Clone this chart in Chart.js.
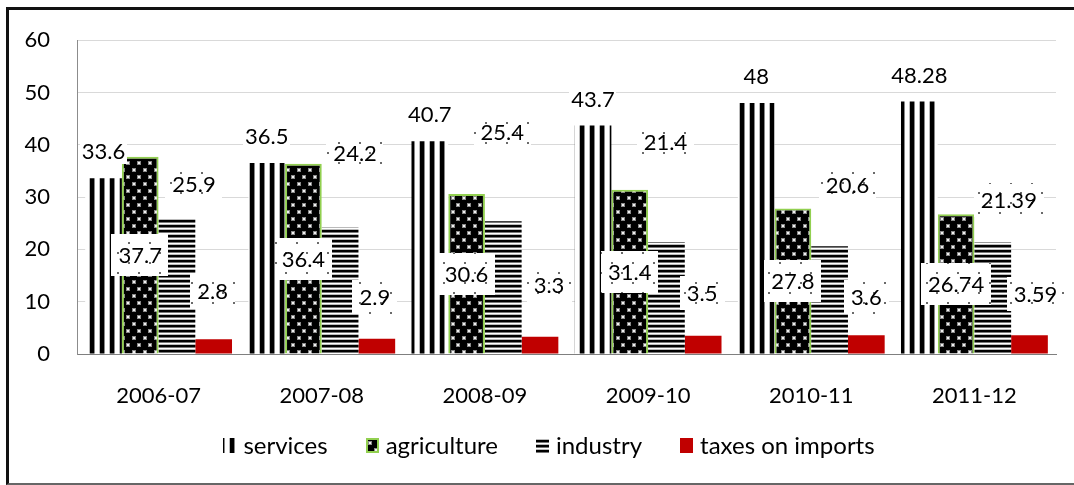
<!DOCTYPE html>
<html>
<head>
<meta charset="utf-8">
<script src="https://cdn.jsdelivr.net/npm/chart.js@4.4.0/dist/chart.umd.min.js"></script>
<style>
  html, body { margin: 0; padding: 0; background: #fff; }
  body { width: 1074px; height: 485px; overflow: hidden; position: relative; }
  #frame { position: absolute; left: 6px; top: 7px; width: 1080px; height: 473px;
           border-left: 3px solid #111; border-top: 3px solid #111; border-bottom: 2px solid #666; }
  #c { position: absolute; left: 0; top: 0; }
</style>
</head>
<body>
<div id="frame"></div>
<canvas id="c" width="1074" height="485"></canvas>
<script>
// ---------------- DATA ----------------
const categories = ['2006-07', '2007-08', '2008-09', '2009-10', '2010-11', '2011-12'];
const seriesNames = ['services', 'agriculture', 'industry', 'taxes on imports'];
const services = [33.6, 36.5, 40.7, 43.7, 48, 48.28];
const agriculture = [37.7, 36.4, 30.6, 31.4, 27.8, 26.74];
const industry = [25.9, 24.2, 25.4, 21.4, 20.6, 21.39];
const taxesOnImports = [2.8, 2.9, 3.3, 3.5, 3.6, 3.59];
const yTicks = [0, 10, 20, 30, 40, 50, 60];

// ---------------- STYLE ----------------
const FONT = 'Lato';
const FONT_SIZE = 22;
const LEGEND_FONT_SIZE = 24;

function makePattern(w, h, draw) {
  const c = document.createElement('canvas');
  c.width = w; c.height = h;
  const x = c.getContext('2d');
  draw(x, w, h);
  return x.createPattern(c, 'repeat');
}
// vertical stripes
const servicesFill = makePattern(10, 4, (x, w, h) => {
  const cols = ['#000', '#000', '#000', '#000', '#888', '#fff', '#fff', '#fff', '#fff', '#bbb'];
  cols.forEach((c, i) => { x.fillStyle = c; x.fillRect(i, 0, 1, h); });
});
// black with light dots
const agricultureFill = makePattern(11, 14, (x, w, h) => {
  x.fillStyle = '#000'; x.fillRect(0, 0, w, h);
  x.fillStyle = '#8a8a8a';
  x.fillRect(0, 0, 4, 4); x.fillRect(5, 7, 4, 4);
  x.fillStyle = '#f0f0f0';
  x.fillRect(1, 1, 2, 2); x.fillRect(6, 8, 2, 2);
});
// horizontal stripes
const industryFill = makePattern(4, 5, (x, w, h) => {
  const rows = ['#000', '#000', '#777', '#fff', '#bbb'];
  rows.forEach((c, i) => { x.fillStyle = c; x.fillRect(0, i, w, 1); });
});
// sparse grey dots on white (label boxes)
const labelDots = makePattern(21, 20, (x, w, h) => {
  x.fillStyle = '#fff'; x.fillRect(0, 0, w, h);
  x.fillStyle = '#6a6a6a';
  x.fillRect(2, 2, 2, 2); x.fillRect(12, 12, 2, 2);
});

// label placement styles (offsets in px relative to bar top / centre)
const labelStyle = [
  { pos: 'top', dy: -27, padX: 2, padY: 2, dots: false },
  { pos: 'middle', padX: 7, padY: 10, dots: true },
  { pos: 'top', padX: 7, padY: 6, dots: true,
    shift: [[17, -35], [15, -75], [-1, -89], [-1, -100], [18, -61], [16, -42]] },
  { pos: 'top', padX: 7, padY: 6, dots: true,
    shift: [[-1, -48], [-2, -42], [9, -52], [-1, -43], [0, -38], [6, -41]] }
];

const barLabels = {
  id: 'barLabels',
  afterDatasetsDraw(chart) {
    const ctx = chart.ctx;
    ctx.save();
    ctx.font = FONT_SIZE + 'px ' + FONT;
    ctx.textAlign = 'center';
    ctx.textBaseline = 'middle';
    chart.data.datasets.forEach((ds, di) => {
      const meta = chart.getDatasetMeta(di);
      const st = labelStyle[di];
      meta.data.forEach((bar, i) => {
        const txt = String(ds.data[i]);
        const p = bar.getProps(['x', 'y', 'base'], true);
        let cx = p.x, cy;
        if (st.pos === 'middle') cy = (p.y + p.base) / 2;
        else cy = p.y + (st.dy || 0);
        if (st.shift) { cx += st.shift[i][0]; cy = p.y + st.shift[i][1]; }
        const w = ctx.measureText(txt).width + 2 * st.padX;
        const h = FONT_SIZE + 2 * st.padY;
        ctx.fillStyle = st.dots ? labelDots : '#fff';
        ctx.fillRect(Math.round(cx - w / 2), Math.round(cy - h / 2), Math.round(w), Math.round(h));
        ctx.fillStyle = '#000';
        ctx.fillText(txt, cx, cy + 1);
      });
    });
    ctx.restore();
  }
};

const patternLegend = {
  id: 'patternLegend',
  afterDraw(chart) {
    const ctx = chart.ctx;
    ctx.save();
    ctx.font = LEGEND_FONT_SIZE + 'px ' + FONT;
    ctx.textBaseline = 'middle';
    ctx.textAlign = 'left';
    const iconW = 13, iconH = 15, gap = 7, spacing = 38, centerX = 549, y = 445;
    const items = chart.data.datasets.map(d => d);
    const widths = items.map(d => iconW + gap + ctx.measureText(d.label).width);
    const total = widths.reduce((a, b) => a + b, 0) + spacing * (items.length - 1);
    let x = centerX - total / 2;
    items.forEach((d, k) => {
      ctx.fillStyle = d.backgroundColor;
      ctx.fillRect(Math.round(x), Math.round(y - iconH / 2), iconW, iconH);
      if (d.borderWidth) {
        ctx.strokeStyle = d.borderColor; ctx.lineWidth = 2;
        ctx.strokeRect(Math.round(x) + 1, Math.round(y - iconH / 2) + 1, iconW - 2, iconH - 2);
      }
      ctx.fillStyle = '#000';
      ctx.fillText(d.label, x + iconW + gap, y + 1);
      x += widths[k] + spacing;
    });
    ctx.restore();
  }
};

new Chart(document.getElementById('c'), {
  type: 'bar',
  data: {
    labels: categories,
    datasets: [
      { label: seriesNames[0], data: services, backgroundColor: servicesFill, borderWidth: 0 },
      { label: seriesNames[1], data: agriculture, backgroundColor: agricultureFill, borderColor: '#92D050', borderWidth: 2 },
      { label: seriesNames[2], data: industry, backgroundColor: industryFill, borderWidth: 0 },
      { label: seriesNames[3], data: taxesOnImports, backgroundColor: '#C00000', borderWidth: 0 }
    ]
  },
  options: {
    responsive: false,
    animation: false,
    events: [],
    layout: { padding: { left: 0, right: 18, top: 38, bottom: 71 } },
    datasets: { bar: { categoryPercentage: 0.9, barPercentage: 1.0 } },
    plugins: { legend: { display: false }, tooltip: { enabled: false } },
    scales: {
      x: {
        grid: { display: false },
        border: { display: true, color: '#7f7f7f', width: 1 },
        ticks: { color: '#000', padding: 21, font: { family: FONT, size: FONT_SIZE } },
        afterFit(scale) { scale.height = 60; }
      },
      y: {
        min: yTicks[0],
        max: yTicks[yTicks.length - 1],
        ticks: { stepSize: yTicks[1] - yTicks[0], color: '#000', padding: 27, font: { family: FONT, size: FONT_SIZE } },
        grid: { color: '#d9d9d9', drawTicks: false, lineWidth: 1 },
        border: { display: true, color: '#8c8c8c', width: 1 },
        afterFit(scale) { scale.width = 77; }
      }
    }
  },
  plugins: [barLabels, patternLegend]
});
</script>
</body>
</html>
